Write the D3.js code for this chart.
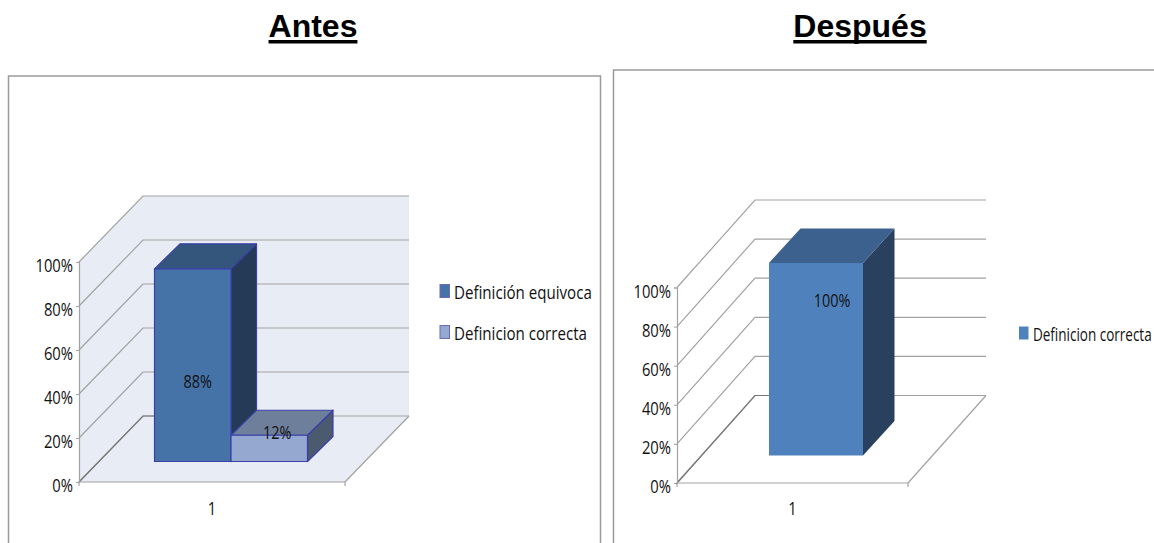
<!DOCTYPE html>
<html><head><meta charset="utf-8">
<script src="https://cdn.jsdelivr.net/npm/d3@7"></script>
<style>html,body{margin:0;padding:0;background:#fff;overflow:hidden}svg{display:block}</style>
</head><body>
<script>
const titles = ["Antes", "Después"];
const categories = ["1"];
const axisTicks = [0, 20, 40, 60, 80, 100];
const seriesAntes = ["Definición equivoca", "Definicion correcta"];
const valuesAntes = [88, 12];
const seriesDespues = ["Definicion correcta"];
const valuesDespues = [100];

const W = 1154, H = 543;
const LABEL_FONT = "'Open Sans', sans-serif";
const FS = 18;
const svg = d3.select("body").append("svg").attr("width", W).attr("height", H);

function condensed(sel, factor) {
  sel.each(function () {
    const len = this.getComputedTextLength();
    d3.select(this).attr("textLength", len * factor).attr("lengthAdjust", "spacingAndGlyphs");
  });
  return sel;
}

function panelBox(x0, x1, y0) {
  svg.append("path")
    .attr("d", d3.line()([[x0, H + 5], [x0, y0], [x1, y0], [x1, H + 5]]))
    .attr("fill", "none").attr("stroke", "#9a9a9a").attr("stroke-width", 1.5);
}

function chart(c) {
  const g = svg.append("g");
  const y = d3.scaleLinear().domain([0, 100]).range([c.y0, c.y100]);
  const x = d3.scaleBand().domain(categories).range([c.x0, c.x1]);
  const barX = d3.scaleBand().domain(c.series)
    .range([c.x0 + c.barOffset, c.x0 + c.barOffset + c.barW * c.series.length]);
  const dx = c.wallDx, dy = c.wallDy;
  const line = d3.line();

  if (c.wallFill) {
    g.append("path").attr("fill", c.wallFill).attr("d",
      line([[c.x0, y(100)], [c.x0 + dx, y(100) - dy], [c.x1 + dx, y(100) - dy], [c.x1 + dx, y(0) - dy], [c.x1, y(0)], [c.x0, y(0)]]) + "Z");
  }
  axisTicks.forEach(t => {
    g.append("path").attr("fill", "none").attr("stroke", "#a2a2a2").attr("stroke-width", 1.2)
      .attr("d", line([[c.x0, y(t)], [c.x0 + dx, y(t) - dy], [c.x1 + dx, y(t) - dy]]));
  });
  g.append("path").attr("fill", "none").attr("stroke", "#a2a2a2").attr("stroke-width", 1.2)
    .attr("d", line([[c.x1 + dx, y(0) - dy], [c.x1, y(0)]]));
  g.append("path").attr("fill", "none").attr("stroke", "#777").attr("stroke-width", 1.2)
    .attr("d", line([[c.x0, y(0)], [c.x0 + dx, y(0) - dy], [c.x0 + dx + 40, y(0) - dy]]));

  const ay = g.append("g").attr("transform", `translate(${c.x0},0)`)
    .call(d3.axisLeft(y).tickValues(axisTicks).tickFormat(d => d + "%").tickSize(3).tickPadding(3));
  const ax = g.append("g").attr("transform", `translate(0,${c.y0})`)
    .call(d3.axisBottom(x).tickSize(0).tickPadding(c.catPad));
  g.append("path").attr("fill", "none").attr("stroke", "#a2a2a2").attr("stroke-width", 1.2)
    .attr("d", line([[c.x0, c.y0 + 4], [c.x0, c.y0], [c.x1, c.y0], [c.x1, c.y0 + 4]]));
  [ay, ax].forEach(a => {
    a.selectAll(".domain").attr("stroke", "#a2a2a2").attr("stroke-width", 1.2);
    a.selectAll("line").attr("stroke", "#a2a2a2");
    a.selectAll("text").attr("fill", "#111").attr("font-family", LABEL_FONT).attr("font-size", FS);
  });
  ax.select(".domain").remove();
  ay.selectAll("text").attr("dy", "0.55em");
  condensed(ay.selectAll("text"), 0.82);
  condensed(ax.selectAll("text"), 0.82);
  ax.selectAll("text").attr("transform", `translate(${c.catDx},0)`);

  c.series.forEach((s, i) => {
    const v = c.values[i], col = c.colors[i];
    const l = barX(s), r = l + barX.bandwidth();
    const b = c.barBase, t = c.barBase - (y(0) - y(v)) * c.barScale;
    const bar = g.append("g").attr("stroke", c.barStroke).attr("stroke-width", c.barStroke === "none" ? 0 : 1.2).attr("stroke-linejoin", "round");
    bar.append("path").attr("fill", col.side).attr("d", line([[r, t], [r + c.barDx, t - c.barDy], [r + c.barDx, b - c.barDy], [r, b]]) + "Z");
    bar.append("path").attr("fill", col.top).attr("d", line([[l, t], [l + c.barDx, t - c.barDy], [r + c.barDx, t - c.barDy], [r, t]]) + "Z");
    bar.append("path").attr("fill", col.front).attr("d", line([[l, t], [r, t], [r, b], [l, b]]) + "Z");
  });
  c.series.forEach((s, i) => {
    const v = c.values[i];
    const lbl = g.append("text").text(v + "%")
      .attr("x", barX(s) + barX.bandwidth() / 2 + c.labelOff[i][0])
      .attr("y", c.barBase - (y(0) - y(v)) * c.barScale / 2 + c.labelOff[i][1])
      .attr("text-anchor", "middle").attr("fill", "#111")
      .attr("font-family", LABEL_FONT).attr("font-size", FS);
    condensed(lbl, 0.8);
  });

  c.series.forEach((s, i) => {
    const ly = c.legendY[i];
    g.append("rect").attr("x", c.legendX).attr("y", ly - 6.5).attr("width", c.swatch).attr("height", 13)
      .attr("fill", c.colors[i].front).attr("stroke", c.barStroke === "none" ? "none" : "#6a6ab8").attr("stroke-width", 1);
    g.append("text").text(s)
      .attr("transform", `translate(${c.legendX + c.swatch + 4.5},${ly + 8}) scale(${c.legendFactor},1)`)
      .attr("fill", "#111").attr("font-family", LABEL_FONT).attr("font-size", FS);
  });
}

panelBox(8.5, 600.5, 76);
panelBox(613.5, W + 5, 70);

titles.forEach((t, i) => {
  const cx = [313, 860][i];
  const el = svg.append("text").text(t).attr("x", cx).attr("y", 37)
    .attr("text-anchor", "middle").attr("font-family", "'Liberation Sans', Arial, sans-serif")
    .attr("font-weight", "bold").attr("font-size", 32).attr("fill", "#000");
  const len = el.node().getComputedTextLength();
  svg.append("rect").attr("x", cx - len / 2).attr("y", 40).attr("width", len).attr("height", 3.5).attr("fill", "#000");
});

chart({
  series: seriesAntes, values: valuesAntes,
  colors: [{ front: "#4573a7", top: "#34567c", side: "#243a57" },
           { front: "#94a8d0", top: "#6e7f9c", side: "#4c5a70" }],
  x0: 79, x1: 345, y0: 482, y100: 262, wallDx: 64, wallDy: 66, wallFill: "#e8ecf4",
  barOffset: 75.5, barW: 76.5, barBase: 461.5, barScale: 0.995, barDx: 25.5, barDy: 25, barStroke: "#3b3fa6",
  labelOff: [[5, 23], [8, -9]], catPad: 20, catDx: 0,
  legendX: 440, swatch: 9.5, legendY: [291, 332], legendFactor: 0.84
});

chart({
  series: seriesDespues, values: valuesDespues,
  colors: [{ front: "#4f81bd", top: "#3d618e", side: "#29415f" }],
  x0: 677, x1: 908, y0: 483, y100: 287.5, wallDx: 78, wallDy: 87.5, wallFill: null,
  barOffset: 92, barW: 94, barBase: 455.5, barScale: 0.985, barDx: 31.5, barDy: 34.5, barStroke: "none",
  labelOff: [[16, -52.5], [0, 0]], catPad: 19, catDx: 0,
  legendX: 1019, swatch: 9.5, legendY: [333], legendFactor: 0.75
});
</script>
</body></html>
